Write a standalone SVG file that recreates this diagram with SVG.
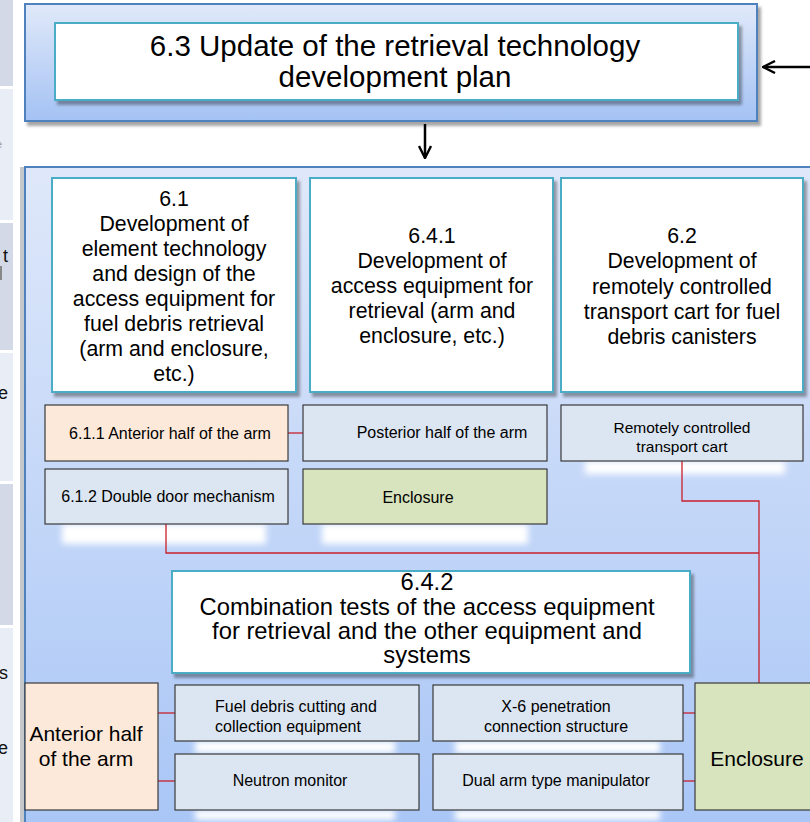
<svg xmlns="http://www.w3.org/2000/svg" width="810" height="822" viewBox="0 0 810 822">
<defs>
<linearGradient id="panelTop" x1="0" y1="0" x2="0" y2="1">
<stop offset="0" stop-color="#e0e9f9"/>
<stop offset="1" stop-color="#a4c2f4"/>
</linearGradient>
<linearGradient id="panelBot" x1="0" y1="0" x2="0" y2="1">
<stop offset="0" stop-color="#dfe8fa"/>
<stop offset="1" stop-color="#a9c6f6"/>
</linearGradient>
<filter id="shadow" x="-5%" y="-5%" width="115%" height="125%">
<feDropShadow dx="3" dy="4" stdDeviation="1.5" flood-color="#000" flood-opacity="0.35"/>
</filter>
<filter id="glow" x="-20%" y="-50%" width="140%" height="200%">
<feGaussianBlur stdDeviation="3"/>
</filter>
<marker id="arrow" viewBox="0 0 14 14" refX="13" refY="7" markerWidth="14" markerHeight="14" markerUnits="userSpaceOnUse" orient="auto">
<path d="M1,1 L13,7 L1,13" fill="none" stroke="#000" stroke-width="2.4"/>
</marker>
<style>
.lbl{font-family:"Liberation Sans",Arial,sans-serif;fill:#000;text-anchor:middle}
.big{font-size:29.5px}
.mid{font-size:21.3px}
.t642{font-size:23.8px}
.sm{font-size:16px}
.lg{font-size:21px}
.whiteBox{fill:#fff;stroke:#4bacc6;stroke-width:2;filter:url(#shadow)}
.subBlue{fill:#dce6f2;stroke:#3a3a3a;stroke-width:1.2}
.subPeach{fill:#fde9d9;stroke:#3a3a3a;stroke-width:1.2}
.subGreen{fill:#d7e4bd;stroke:#3a3a3a;stroke-width:1.2}
.red{fill:none;stroke:#c8202c;stroke-width:1.3}
.glowR{fill:#fff;filter:url(#glow)}
.band1{fill:#d3d9e6}
.band2{fill:#e9edf5}
.frag{font-family:"Liberation Sans",Arial,sans-serif;font-size:18px;fill:#111}
</style>
</defs>

<rect width="810" height="822" fill="#ffffff"/>

<!-- left sidebar fragments -->
<g id="sidebar">
<rect class="band1" x="0" y="0" width="13" height="86"/>
<rect class="band2" x="0" y="89" width="13" height="131"/>
<rect class="band1" x="0" y="223" width="13" height="127"/>
<rect class="band2" x="0" y="353" width="13" height="128"/>
<rect class="band1" x="0" y="484" width="13" height="141"/>
<rect class="band2" x="0" y="628" width="13" height="194"/>
<text class="frag" x="-4" y="148" style="font-size:11px;fill:#999">e</text>
<text class="frag" x="3" y="262">t</text>
<rect x="0" y="266" width="2" height="14" fill="#888"/>
<text class="frag" x="-2" y="399">e</text>
<text class="frag" x="-1" y="679">s</text>
<text class="frag" x="-2" y="754">e</text>
</g>

<!-- panels -->
<g id="panel-top">
<rect x="25" y="4" width="732" height="117" fill="url(#panelTop)" stroke="#4f81bd" stroke-width="2" filter="url(#shadow)"/>
</g>
<g id="panel-bottom">
<rect x="20" y="167" width="5" height="660" fill="#c6c8cc"/>
<rect x="25" y="167" width="800" height="660" fill="url(#panelBot)" stroke="#4f81bd" stroke-width="2"/>
</g>

<!-- glows -->
<g id="glows">
<rect class="glowR" x="62" y="524" width="204" height="20"/>
<rect class="glowR" x="322" y="524" width="206" height="20"/>
<rect class="glowR" x="585" y="461" width="200" height="13"/>
<rect class="glowR" x="195" y="741" width="200" height="12"/>
<rect class="glowR" x="455" y="741" width="205" height="12"/>
<rect class="glowR" x="195" y="810" width="200" height="10"/>
<rect class="glowR" x="455" y="810" width="205" height="10"/>
</g>

<!-- connectors -->
<g id="connectors">
<line x1="810" y1="67" x2="763" y2="67" stroke="#000" stroke-width="2.5" marker-end="url(#arrow)"/>
<line x1="425" y1="124" x2="425" y2="158" stroke="#000" stroke-width="2.5" marker-end="url(#arrow)"/>
<line class="red" x1="288" y1="433" x2="303" y2="433"/>
<polyline class="red" points="166,524 166,553 759,553"/>
<polyline class="red" points="682,461 682,501 759,501 759,683"/>
<line class="red" x1="158" y1="713" x2="175" y2="713"/>
<line class="red" x1="158" y1="781" x2="175" y2="781"/>
<line class="red" x1="683" y1="713" x2="695" y2="713"/>
<line class="red" x1="683" y1="781" x2="695" y2="781"/>
</g>

<g id="n63">
<rect class="whiteBox" x="55" y="23" width="683" height="77"/>
<text class="lbl big" x="395" y="56">6.3 Update of the retrieval technology</text>
<text class="lbl big" x="395" y="87">development plan</text>
</g>

<g id="n61">
<rect class="whiteBox" x="52" y="178" width="244" height="214"/>
<text class="lbl mid" x="174" y="206">6.1</text>
<text class="lbl mid" x="174" y="231">Development of</text>
<text class="lbl mid" x="174" y="256">element technology</text>
<text class="lbl mid" x="174" y="281">and design of the</text>
<text class="lbl mid" x="174" y="306">access equipment for</text>
<text class="lbl mid" x="174" y="331">fuel debris retrieval</text>
<text class="lbl mid" x="174" y="356">(arm and enclosure,</text>
<text class="lbl mid" x="174" y="381">etc.)</text>
</g>

<g id="n641">
<rect class="whiteBox" x="310" y="178" width="243" height="214"/>
<text class="lbl mid" x="432" y="243">6.4.1</text>
<text class="lbl mid" x="432" y="268">Development of</text>
<text class="lbl mid" x="432" y="293">access equipment for</text>
<text class="lbl mid" x="432" y="318">retrieval (arm and</text>
<text class="lbl mid" x="432" y="343">enclosure, etc.)</text>
</g>

<g id="n62">
<rect class="whiteBox" x="561" y="178" width="242" height="214"/>
<text class="lbl mid" x="682" y="243">6.2</text>
<text class="lbl mid" x="682" y="268">Development of</text>
<text class="lbl mid" x="682" y="294">remotely controlled</text>
<text class="lbl mid" x="682" y="319">transport cart for fuel</text>
<text class="lbl mid" x="682" y="344">debris canisters</text>
</g>

<g id="n611">
<rect class="subPeach" x="45" y="405" width="243" height="56"/>
<text class="lbl sm" x="170" y="439">6.1.1 Anterior half of the arm</text>
</g>
<g id="nPosterior">
<rect class="subBlue" x="303" y="405" width="244" height="56"/>
<text class="lbl sm" x="442" y="438">Posterior half of the arm</text>
</g>
<g id="nCart">
<rect class="subBlue" x="561" y="405" width="242" height="56"/>
<text class="lbl sm" x="682" y="433" style="font-size:15.5px">Remotely controlled</text>
<text class="lbl sm" x="682" y="452" style="font-size:15.5px">transport cart</text>
</g>
<g id="n612">
<rect class="subBlue" x="45" y="469" width="243" height="55"/>
<text class="lbl sm" x="168" y="502">6.1.2 Double door mechanism</text>
</g>
<g id="nEnclosure1">
<rect class="subGreen" x="303" y="469" width="244" height="55"/>
<text class="lbl sm" x="418" y="503">Enclosure</text>
</g>

<g id="n642">
<rect class="whiteBox" x="172" y="571" width="518" height="102"/>
<text class="lbl t642" x="427" y="590">6.4.2</text>
<text class="lbl t642" x="427" y="615">Combination tests of the access equipment</text>
<text class="lbl t642" x="427" y="639">for retrieval and the other equipment and</text>
<text class="lbl t642" x="427" y="663">systems</text>
</g>

<g id="nAnterior2">
<rect class="subPeach" x="25" y="683" width="133" height="127"/>
<text class="lbl lg" x="86" y="741">Anterior half</text>
<text class="lbl lg" x="86" y="766">of the arm</text>
</g>
<g id="nCutting">
<rect class="subBlue" x="175" y="685" width="244" height="56"/>
<text class="lbl sm" x="215" y="712" style="text-anchor:start">Fuel debris cutting and</text>
<text class="lbl sm" x="215" y="732" style="text-anchor:start">collection equipment</text>
</g>
<g id="nNeutron">
<rect class="subBlue" x="175" y="754" width="244" height="56"/>
<text class="lbl sm" x="290" y="786">Neutron monitor</text>
</g>
<g id="nX6">
<rect class="subBlue" x="433" y="685" width="250" height="56"/>
<text class="lbl sm" x="556" y="712">X-6 penetration</text>
<text class="lbl sm" x="556" y="732">connection structure</text>
</g>
<g id="nDual">
<rect class="subBlue" x="433" y="754" width="250" height="56"/>
<text class="lbl sm" x="556" y="786">Dual arm type manipulator</text>
</g>
<g id="nEnclosure2">
<rect class="subGreen" x="695" y="683" width="130" height="127"/>
<text class="lbl lg" x="757" y="766">Enclosure</text>
</g>
</svg>
